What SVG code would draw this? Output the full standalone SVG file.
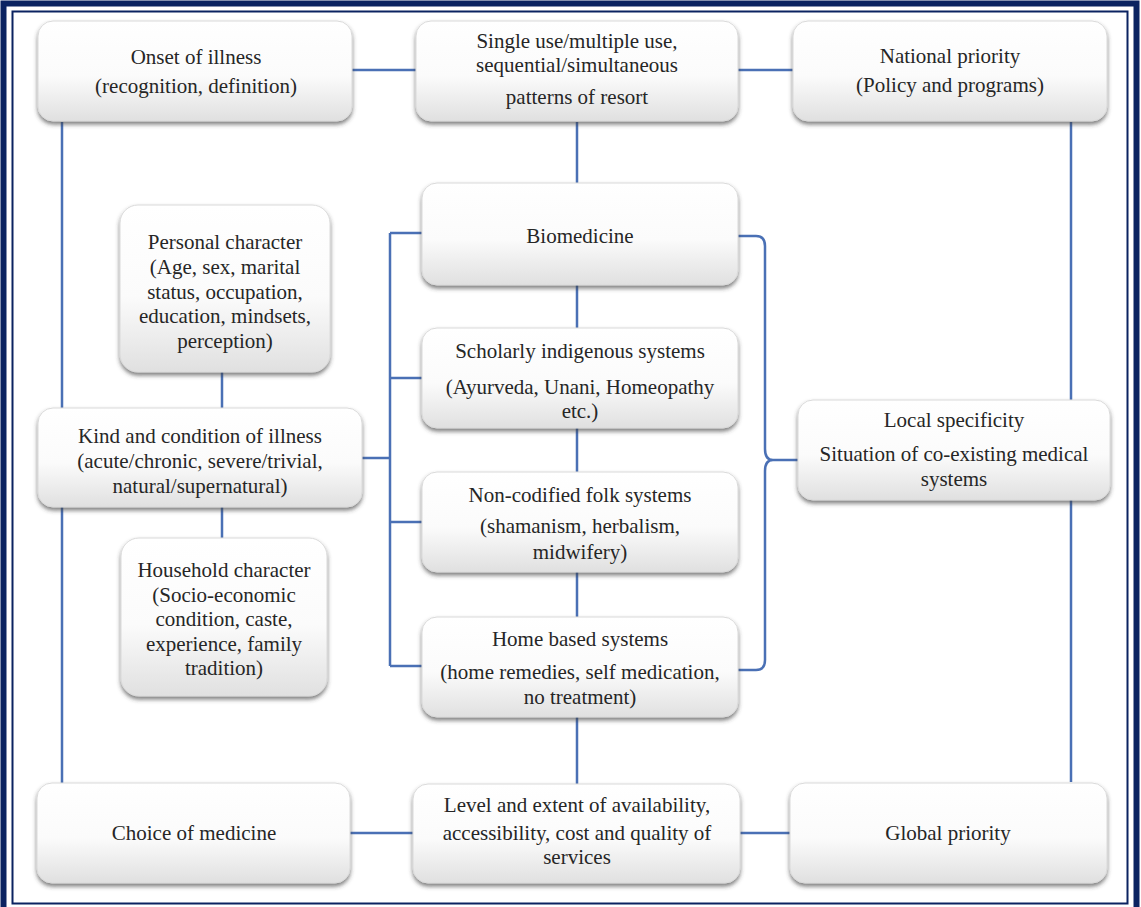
<svg xmlns="http://www.w3.org/2000/svg" width="1141" height="907" viewBox="0 0 1141 907">
<style>
.box{fill:url(#g);stroke:#dadada;stroke-width:1;filter:url(#sh)}
.t{font-family:"Liberation Serif","Times New Roman",serif;font-size:21px;fill:#262626;text-anchor:middle}
.c{fill:none;stroke:#4a70b5;stroke-width:2.5}
</style>
<defs>
<linearGradient id="g" x1="0" y1="0" x2="0" y2="1">
<stop offset="0" stop-color="#ffffff"/>
<stop offset="0.55" stop-color="#fbfbfb"/>
<stop offset="1" stop-color="#e0e0e0"/>
</linearGradient>
<filter id="sh" x="-10%" y="-10%" width="120%" height="130%">
<feDropShadow dx="0" dy="3" stdDeviation="2" flood-color="#3a3a3a" flood-opacity="0.65"/>
</filter>
</defs>
<rect width="1141" height="907" fill="#ffffff"/>
<rect x="3.5" y="3.5" width="1133" height="910" fill="none" stroke="#0b2361" stroke-width="6"/>
<rect x="12.5" y="11.5" width="1115" height="892" fill="none" stroke="#0b2361" stroke-width="2"/>
<g id="connectors">
<path class="c" d="M352 70H416M738 70H793M577 122V183"/>
<path class="c" d="M62 122V408M62 507V783M1071 122V400M1071 500V782"/>
<path class="c" d="M222 372V408M222 507V538"/>
<path class="c" d="M362 458H390M390 233V666M390 233H422M390 378H422M390 522H422M390 666H422"/>
<path class="c" d="M577 285V328M577 428V472M577 572V617M577 717V785"/>
<path class="c" d="M350 833H413M740 833H790"/>
<path class="c" d="M738 236H756Q765 236 765 246V449Q765 460 773 460H798M773 460Q765 460 765 471V660Q765 670 756 670H738"/>
</g>
<g id="onset"><rect class="box" x="38" y="21" width="314" height="100" rx="15"/>
<text class="t" x="196" y="64">Onset of illness</text><text class="t" x="196" y="93">(recognition, definition)</text></g>
<g id="patterns"><rect class="box" x="416" y="21" width="322" height="100" rx="15"/>
<text class="t" x="577" y="48">Single use/multiple use,</text><text class="t" x="577" y="72">sequential/simultaneous</text><text class="t" x="577" y="104">patterns of resort</text></g>
<g id="national"><rect class="box" x="793" y="21" width="314" height="100" rx="15"/>
<text class="t" x="950" y="63">National priority</text><text class="t" x="950" y="92">(Policy and programs)</text></g>
<g id="personal"><rect class="box" x="120" y="205" width="210" height="167" rx="18"/>
<text class="t" x="225" y="249">Personal character</text><text class="t" x="225" y="274">(Age, sex, marital</text><text class="t" x="225" y="299">status, occupation,</text><text class="t" x="225" y="323">education, mindsets,</text><text class="t" x="225" y="348">perception)</text></g>
<g id="kind"><rect class="box" x="38" y="408" width="324" height="99" rx="15"/>
<text class="t" x="200" y="443">Kind and condition of illness</text><text class="t" x="200" y="468">(acute/chronic, severe/trivial,</text><text class="t" x="200" y="493">natural/supernatural)</text></g>
<g id="household"><rect class="box" x="121" y="538" width="206" height="158" rx="18"/>
<text class="t" x="224" y="577">Household character</text><text class="t" x="224" y="602">(Socio-economic</text><text class="t" x="224" y="626">condition, caste,</text><text class="t" x="224" y="651">experience, family</text><text class="t" x="224" y="675">tradition)</text></g>
<g id="biomedicine"><rect class="box" x="422" y="183" width="316" height="102" rx="15"/>
<text class="t" x="580" y="243">Biomedicine</text></g>
<g id="scholarly"><rect class="box" x="422" y="328" width="316" height="100" rx="15"/>
<text class="t" x="580" y="358">Scholarly indigenous systems</text><text class="t" x="580" y="394">(Ayurveda, Unani, Homeopathy</text><text class="t" x="580" y="418">etc.)</text></g>
<g id="folk"><rect class="box" x="422" y="472" width="316" height="100" rx="15"/>
<text class="t" x="580" y="502">Non-codified folk systems</text><text class="t" x="580" y="533">(shamanism, herbalism,</text><text class="t" x="580" y="559">midwifery)</text></g>
<g id="home"><rect class="box" x="422" y="617" width="316" height="100" rx="15"/>
<text class="t" x="580" y="646">Home based systems</text><text class="t" x="580" y="679">(home remedies, self medication,</text><text class="t" x="580" y="704">no treatment)</text></g>
<g id="local"><rect class="box" x="798" y="400" width="312" height="100" rx="15"/>
<text class="t" x="954" y="427">Local specificity</text><text class="t" x="954" y="461">Situation of co-existing medical</text><text class="t" x="954" y="486">systems</text></g>
<g id="choice"><rect class="box" x="37" y="783" width="313" height="100" rx="15"/>
<text class="t" x="194" y="840">Choice of medicine</text></g>
<g id="level"><rect class="box" x="413" y="784" width="327" height="99" rx="15"/>
<text class="t" x="577" y="812">Level and extent of availability,</text><text class="t" x="577" y="840">accessibility, cost and quality of</text><text class="t" x="577" y="864">services</text></g>
<g id="global"><rect class="box" x="790" y="783" width="317" height="100" rx="15"/>
<text class="t" x="948" y="840">Global priority</text></g>
</svg>
